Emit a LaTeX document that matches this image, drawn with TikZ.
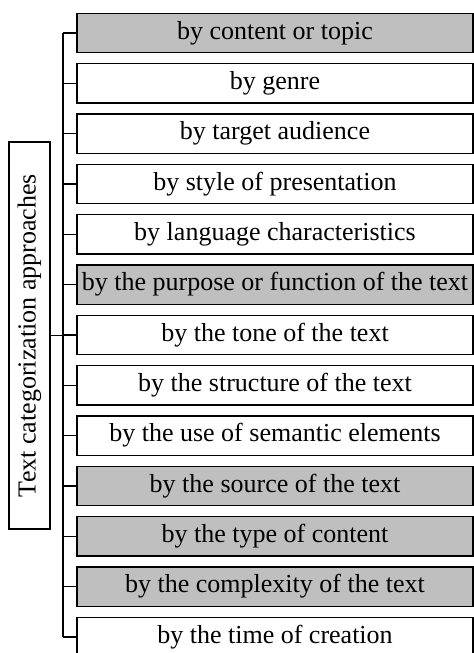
\documentclass[tikz,border=0pt]{standalone}
\usepackage{fontspec}
\setmainfont{Liberation Serif}

\begin{document}
\begin{tikzpicture}[x=0.5pt,y=0.5pt,line width=0.7pt,
    every node/.style={font=\fontsize{13}{15}\selectfont},
    catbox/.style={draw, fill=#1, minimum width=198pt, minimum height=19.75pt, inner sep=0pt}]
    \useasboundingbox (0,0) rectangle (474,653);
    \node[draw, rotate=90, minimum width=193.5pt, minimum height=20.5pt, inner sep=0pt] (root) at (29.5,317.5) {Text categorization approaches};
    \coordinate (spine) at (63,0);
    \foreach \txt/\col [count=\i] in {by content or topic/gray!50, by genre/white, by target audience/white,
            by style of presentation/white, by language characteristics/white,
            by the purpose or function of the text/gray!50, by the tone of the text/white,
            by the structure of the text/white, by the use of semantic elements/white,
            by the source of the text/gray!50, by the type of content/gray!50,
            by the complexity of the text/gray!50, by the time of creation/white}{
        \node[catbox=\col] (c\i) at (275,{620-(\i-1)*50.33}) {\txt};
        \draw (c\i.west) -- (c\i.west -| spine);
    }
    \draw (c1.west -| spine) -- (c13.west -| spine);
    \draw (root.south) -- (root.south -| spine);
\end{tikzpicture}
\end{document}
